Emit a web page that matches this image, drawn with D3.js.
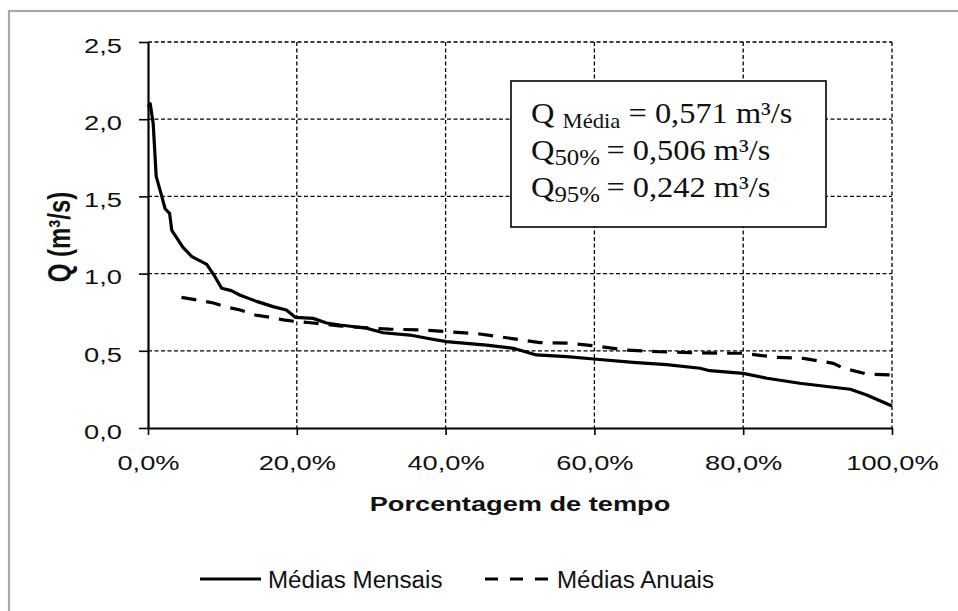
<!DOCTYPE html>
<html>
<head>
<meta charset="utf-8">
<script src="https://cdn.jsdelivr.net/npm/d3@7"></script>
<style>
  body { margin: 0; background: #fff; }
  svg { display: block; }
</style>
</head>
<body>
<svg id="chart"></svg>
<script>
const mensaisX = [0, 0.3, 0.7, 1.1, 1.8, 2.3, 2.9, 3.2, 4.7, 5.9, 7.9, 9.0, 9.9, 11.2, 12.4, 14.6, 16.8, 18.6, 19.8, 22.2, 24.0, 25.8, 29.4, 31.6, 35.2, 37.5, 40.1, 45.5, 49.1, 52.2, 56.3, 59.9, 65.2, 69.7, 74.2, 75.5, 80.0, 83.2, 87.6, 92.1, 94.4, 96.6, 100];
const mensaisY = [2.08, 2.10, 1.97, 1.63, 1.51, 1.42, 1.39, 1.28, 1.17, 1.11, 1.06, 0.98, 0.905, 0.89, 0.86, 0.82, 0.786, 0.764, 0.717, 0.71, 0.68, 0.667, 0.646, 0.617, 0.602, 0.581, 0.559, 0.537, 0.516, 0.473, 0.462, 0.447, 0.425, 0.41, 0.387, 0.371, 0.354, 0.322, 0.29, 0.264, 0.251, 0.214, 0.142];

const anuaisX = [4.5, 6.5, 8.8, 10.3, 12.4, 14.4, 16.4, 18.2, 20.0, 22.2, 26, 29, 32.5, 37, 40.1, 44.6, 48.7, 52.7, 56.7, 60.3, 64.3, 68.8, 72.8, 76.9, 80, 84.5, 88.1, 92.1, 93.5, 96.6, 100];
const anuaisY = [0.846, 0.83, 0.81, 0.786, 0.764, 0.732, 0.717, 0.70, 0.689, 0.68, 0.66, 0.65, 0.64, 0.635, 0.624, 0.609, 0.581, 0.553, 0.549, 0.531, 0.505, 0.494, 0.488, 0.484, 0.484, 0.458, 0.451, 0.419, 0.387, 0.35, 0.343];

const xTicks = [0, 20, 40, 60, 80, 100];
const yTicks = [0, 0.5, 1.0, 1.5, 2.0, 2.5];

const seriesNames = ["Médias Mensais", "Médias Anuais"];
const boxLines = [
    { sub: "Média", value: " = 0,571 m³/s", gap: true },
    { sub: "50%", value: "\u2009= 0,506 m³/s", gap: false },
    { sub: "95%", value: "\u2009= 0,242 m³/s", gap: false },
];

const width = 958;
const height = 611;
const plotL = 148, plotR = 892, plotT = 42, plotB = 428;
// o desenho original foi esticado na horizontal
const stretch = 1.33;

let svg = d3.select("#chart").attr("width", width).attr("height", height);

// moldura externa
svg.append("rect")
    .attr("x", 9).attr("y", 11)
    .attr("width", 1000).attr("height", 1000)
    .attr("fill", "none")
    .attr("stroke", "#a8a8a8")
    .attr("stroke-width", 2.2);

let scX = d3.scaleLinear().domain([0, 100]).range([plotL, plotR]);
let scY = d3.scaleLinear().domain([0, 2.5]).range([plotB, plotT]);

const fmtX = (d) => d.toFixed(1).replace(".", ",") + "%";
const fmtY = (d) => d.toFixed(1).replace(".", ",");

// grade tracejada
svg.append("g").selectAll("line")
    .data(xTicks.slice(1))
    .enter().append("line")
    .attr("x1", (d) => scX(d)).attr("x2", (d) => scX(d))
    .attr("y1", plotT).attr("y2", plotB)
    .attr("stroke", "#000").attr("stroke-width", 1.3)
    .attr("stroke-dasharray", "4,2.5");

svg.append("g").selectAll("line")
    .data(yTicks.slice(1))
    .enter().append("line")
    .attr("x1", plotL).attr("x2", plotR)
    .attr("y1", (d) => scY(d)).attr("y2", (d) => scY(d))
    .attr("stroke", "#000").attr("stroke-width", 1.3)
    .attr("stroke-dasharray", "4,2.5");

// eixos
let axisX = svg.append("g")
    .attr("transform", `translate(0, ${plotB})`)
    .call(d3.axisBottom(scX).tickValues(xTicks).tickFormat(fmtX).tickSize(7).tickSizeOuter(0));
let axisY = svg.append("g")
    .attr("transform", `translate(${plotL}, 0)`)
    .call(d3.axisLeft(scY).tickValues(yTicks).tickFormat(fmtY).tickSize(9).tickSizeOuter(0));

[axisX, axisY].forEach((ax) => {
    ax.select(".domain").attr("stroke", "#000").attr("stroke-width", 2.2);
    ax.selectAll(".tick line").attr("stroke", "#000").attr("stroke-width", 1.6);
    ax.selectAll("text")
        .attr("fill", "#111")
        .attr("transform", `scale(${stretch},1)`)
        .style("font-family", "Liberation Sans, Arial, sans-serif")
        .style("font-size", "20.5px");
});
axisX.selectAll("text").attr("y", 27).attr("dy", "0.71em");
axisY.selectAll("text").attr("x", -26 / stretch).attr("dy", "0.5em");

// títulos dos eixos
svg.append("text")
    .attr("transform", `translate(${(plotL + plotR) / 2}, 511) scale(1.36,1)`)
    .attr("text-anchor", "middle")
    .attr("fill", "#111")
    .style("font-family", "Liberation Sans, Arial, sans-serif")
    .style("font-size", "20px").style("font-weight", "bold")
    .text("Porcentagem de tempo");

svg.append("text")
    .attr("transform", "translate(70, 237) rotate(-90) scale(1,1.3)")
    .attr("text-anchor", "middle")
    .attr("fill", "#111")
    .style("font-family", "Liberation Sans, Arial, sans-serif")
    .style("font-size", "24px").style("font-weight", "bold")
    .text("Q (m³/s)");

// curvas
const line = d3.line().x((d) => scX(d[0])).y((d) => scY(d[1]));
const mensais = mensaisX.map((x, i) => [x, mensaisY[i]]);
const anuais = anuaisX.map((x, i) => [x, anuaisY[i]]);

svg.append("path").datum(anuais)
    .attr("d", line)
    .attr("fill", "none").attr("stroke", "#000")
    .attr("stroke-width", 3.2)
    .attr("stroke-dasharray", "15,10");

svg.append("path").datum(mensais)
    .attr("d", line)
    .attr("fill", "none").attr("stroke", "#000")
    .attr("stroke-width", 3.2)
    .attr("stroke-linejoin", "round");

// caixa de texto
svg.append("rect")
    .attr("x", 511).attr("y", 81)
    .attr("width", 315).attr("height", 146)
    .attr("fill", "#fff").attr("stroke", "#000").attr("stroke-width", 1.6);

boxLines.forEach((b, i) => {
    let t = svg.append("text")
        .attr("transform", `translate(531, ${123 + i * 37}) scale(1.08,1)`)
        .attr("fill", "#111")
        .style("font-family", "Liberation Serif, Times New Roman, serif")
        .style("font-size", "30px");
    t.append("tspan").text(b.gap ? "Q " : "Q");
    t.append("tspan").attr("dy", 5).style("font-size", b.gap ? "21px" : "23px").text(b.sub);
    t.append("tspan").attr("dy", -5).text(b.value);
});

// legenda
const legY = 579;
svg.append("line")
    .attr("x1", 200).attr("x2", 261).attr("y1", legY).attr("y2", legY)
    .attr("stroke", "#000").attr("stroke-width", 3.2);
svg.append("line")
    .attr("x1", 485).attr("x2", 551).attr("y1", legY).attr("y2", legY)
    .attr("stroke", "#000").attr("stroke-width", 3.2)
    .attr("stroke-dasharray", "13,12");

[[268, seriesNames[0]], [557, seriesNames[1]]].forEach((d) => {
    svg.append("text")
        .attr("transform", `translate(${d[0]}, ${legY + 9}) scale(1.05,1)`)
        .attr("fill", "#111")
        .style("font-family", "Liberation Sans, Arial, sans-serif")
        .style("font-size", "23px")
        .text(d[1]);
});
</script>
</body>
</html>
